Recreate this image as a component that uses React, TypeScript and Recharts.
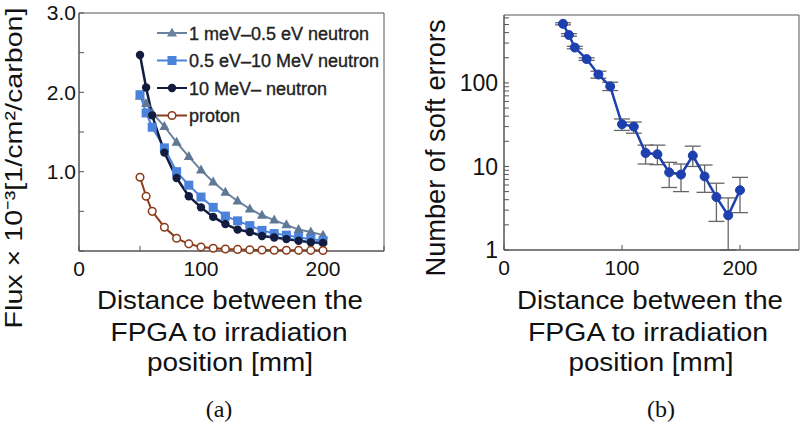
import { LineChart, Line, XAxis, YAxis, ReferenceArea, ErrorBar, Legend } from 'recharts';

// distance from the FPGA [mm]
const distances = [50, 55, 60, 70, 80, 90, 100, 110, 120, 130, 140, 150, 160, 170, 180, 190, 200];

// (a) flux x 10^-3 [1/cm2/carbon]
const thermalFlux = [1.95, 1.86, 1.74, 1.57, 1.37, 1.19, 1.02, 0.87, 0.74, 0.63, 0.53, 0.45, 0.39, 0.33, 0.27, 0.24, 0.2];
const epithermalFlux = [1.97, 1.74, 1.56, 1.3, 1.0, 0.83, 0.68, 0.55, 0.44, 0.38, 0.32, 0.26, 0.22, 0.2, 0.17, 0.15, 0.13];
const fastFlux = [2.47, 2.06, 1.71, 1.24, 0.92, 0.69, 0.55, 0.43, 0.34, 0.27, 0.24, 0.19, 0.17, 0.15, 0.13, 0.11, 0.1];
const protonFlux = [0.93, 0.69, 0.5, 0.3, 0.16, 0.09, 0.05, 0.035, 0.025, 0.02, 0.015, 0.012, 0.01, 0.01, 0.008, 0.008, 0.007];

// (b) number of soft errors, with error bar bounds
const softErrors = [510, 375, 265, 193, 126, 91, 32, 30, 14.5, 14, 8.5, 8, 13.5, 7.6, 4.3, 2.6, 5.2];
const errLow = [495, 362, 256, 186, 114, 81, 27, 25, 10.7, 10.5, 5.6, 5.0, 10, 4.9, 2.2, 1.0, 2.8];
const errHigh = [525, 388, 274, 200, 138, 102, 37, 34, 18, 18, 11.2, 10.7, 17.5, 10.4, 6.3, 4.2, 7.4];

const fluxXTicks = [0, 50, 100, 150, 200, 250];
const fluxYTicks = [0, 0.5, 1, 1.5, 2, 2.5, 3];
const errXTicks = [0, 100, 200];
const errYTicks = [1, 2, 3, 4, 5, 6, 7, 8, 9, 10, 20, 30, 40, 50, 60, 70, 80, 90, 100, 200, 300, 400, 500, 600];

const fluxData = distances.map((d, i) => ({
  d,
  thermal: thermalFlux[i],
  epithermal: epithermalFlux[i],
  fast: fastFlux[i],
  proton: protonFlux[i],
}));

const errData = distances.map((d, i) => ({
  d,
  errors: softErrors[i],
  err: [softErrors[i] - errLow[i], errHigh[i] - softErrors[i]],
}));

const FONT = '"Liberation Sans", Arial, sans-serif';
const tickStyle = { fontSize: 21, fill: '#111', fontFamily: FONT };
const AXIS = '#555';

const legendItems = [
  { name: '1 meV\u20130.5 eV neutron', color: '#6a82a0', marker: 'triangle' },
  { name: '0.5 eV\u201310 MeV neutron', color: '#4b82dc', marker: 'square' },
  { name: '10 MeV\u2013 neutron', color: '#111c3e', marker: 'circle' },
  { name: 'proton', color: '#8a3a18', marker: 'open' },
];

function marker(kind: string, color: string, cx: number, cy: number, key?: string) {
  if (kind === 'triangle')
    return <polygon key={key} points={`${cx},${cy - 5.5} ${cx - 5},${cy + 3.5} ${cx + 5},${cy + 3.5}`} fill={color} />;
  if (kind === 'square')
    return <rect key={key} x={cx - 4.5} y={cy - 4.5} width={9} height={9} fill={color} />;
  if (kind === 'open')
    return <circle key={key} cx={cx} cy={cy} r={3.8} fill="#fff" stroke={color} strokeWidth={1.5} />;
  return <circle key={key} cx={cx} cy={cy} r={4.2} fill={color} />;
}

const dotFor = (kind: string, color: string) => (p: any) =>
  p.cx == null ? <g key={`${kind}-${p.index}`} /> : marker(kind, color, p.cx, p.cy, `${kind}-${p.index}`);

function FluxLegend() {
  return (
    <svg width={240} height={115}>
      {legendItems.map((it, i) => {
        const y = 15 + i * 27.5;
        return (
          <g key={it.name}>
            <line x1={7} x2={37} y1={y} y2={y} stroke={it.color} strokeWidth={2} />
            {marker(it.marker, it.color, 22, y)}
            <text x={39} y={y + 6.5} fontSize={18} fontFamily={FONT} fill="#222" stroke="#222" strokeWidth={0.35}>
              {it.name}
            </text>
          </g>
        );
      })}
    </svg>
  );
}

const fmtFluxX = (v: number) => (v % 100 === 0 && v < 250 ? String(v) : '');
const fmtFluxY = (v: number) => (v > 0 && Number.isInteger(v) ? v.toFixed(1) : '');
const fmtErrY = (v: number) => ([1, 10, 100].includes(v) ? String(v) : '');

export default function App() {
  return (
    <div style={{ position: 'absolute', left: 0, top: 0, width: 802, height: 425, background: '#fff' }}>
      <div style={{ position: 'absolute', left: 0, top: 0 }}>
        <LineChart width={400} height={425} data={fluxData} margin={{ top: 13, right: 16, left: 19, bottom: 144 }}>
          <XAxis
            dataKey="d"
            type="number"
            domain={[0, 250]}
            ticks={fluxXTicks}
            interval={0}
            tickFormatter={fmtFluxX}
            tickSize={-5}
            tickMargin={15}
            height={30}
            stroke={AXIS}
            tick={tickStyle}
          />
          <YAxis
            type="number"
            domain={[0, 3]}
            ticks={fluxYTicks}
            interval={0}
            tickFormatter={fmtFluxY}
            tickSize={-5}
            tickMargin={8}
            width={60}
            stroke={AXIS}
            tick={tickStyle}
          />
          <ReferenceArea x1={0} x2={250} y1={0} y2={3} fill="none" stroke={AXIS} strokeWidth={1} />
          <Line dataKey="thermal" stroke="#6a82a0" strokeWidth={2} dot={dotFor('triangle', '#5e7896')} isAnimationActive={false} />
          <Line dataKey="epithermal" stroke="#4b82dc" strokeWidth={2} dot={dotFor('square', '#4b82dc')} isAnimationActive={false} />
          <Line dataKey="fast" stroke="#111c3e" strokeWidth={2.5} dot={dotFor('circle', '#111c3e')} isAnimationActive={false} />
          <Line dataKey="proton" stroke="#8a3a18" strokeWidth={2} dot={dotFor('open', '#8a3a18')} isAnimationActive={false} />
          <Legend
            layout="vertical"
            align="center"
            verticalAlign="middle"
            wrapperStyle={{ left: 150, top: 18, width: 240, height: 115 }}
            content={() => <FluxLegend />}
          />
        </LineChart>
      </div>

      <div style={{ position: 'absolute', left: 400, top: 0 }}>
        <LineChart width={402} height={425} data={errData} margin={{ top: 15, right: 3, left: 44, bottom: 145 }}>
          <XAxis
            dataKey="d"
            type="number"
            domain={[0, 250]}
            ticks={errXTicks}
            interval={0}
            tickSize={-5}
            tickMargin={15}
            height={30}
            stroke={AXIS}
            tick={tickStyle}
          />
          <YAxis
            type="number"
            scale="log"
            domain={[1, 650]}
            allowDataOverflow
            ticks={errYTicks}
            interval={0}
            tickFormatter={fmtErrY}
            tickSize={-5}
            tickMargin={11}
            width={60}
            stroke={AXIS}
            tick={{ ...tickStyle, fontSize: 23 }}
          />
          <ReferenceArea x1={0} x2={250} y1={1} y2={650} fill="none" stroke={AXIS} strokeWidth={1} />
          <Line
            dataKey="errors"
            stroke="#1e3fae"
            strokeWidth={2.5}
            dot={{ r: 4.5, fill: '#1e3fae', stroke: '#1e3fae', strokeWidth: 1 }}
            isAnimationActive={false}
          >
            <ErrorBar dataKey="err" width={8} stroke="#666" strokeWidth={1.3} direction="y" />
          </Line>
        </LineChart>
      </div>

      <svg width={802} height={425} style={{ position: 'absolute', left: 0, top: 0, pointerEvents: 'none' }}>
        <g fontFamily={FONT} fill="#111" textAnchor="middle">
          <text x={22} y={168} fontSize={24} transform="rotate(-90 22 168)" textLength={321} lengthAdjust="spacingAndGlyphs">
            Flux × 10⁻³[1/cm²/carbon]
          </text>
          <text x={445} y={148} fontSize={27} transform="rotate(-90 445 148)" textLength={257} lengthAdjust="spacingAndGlyphs">
            Number of soft errors
          </text>

          <text x={230} y={309} fontSize={26} textLength={266} lengthAdjust="spacingAndGlyphs">Distance between the</text>
          <text x={229} y={341} fontSize={26} textLength={237} lengthAdjust="spacingAndGlyphs">FPGA to irradiation</text>
          <text x={230} y={371} fontSize={26} textLength={166} lengthAdjust="spacingAndGlyphs">position [mm]</text>

          <text x={650} y={309} fontSize={26} textLength={266} lengthAdjust="spacingAndGlyphs">Distance between the</text>
          <text x={648} y={341} fontSize={26} textLength={240} lengthAdjust="spacingAndGlyphs">FPGA to irradiation</text>
          <text x={651} y={371} fontSize={26} textLength={165} lengthAdjust="spacingAndGlyphs">position [mm]</text>
        </g>
        <g fontFamily='"Liberation Serif", "Times New Roman", serif' fill="#111" textAnchor="middle" fontSize={24}>
          <text x={219} y={417}>(a)</text>
          <text x={661} y={417}>(b)</text>
        </g>
      </svg>
    </div>
  );
}
